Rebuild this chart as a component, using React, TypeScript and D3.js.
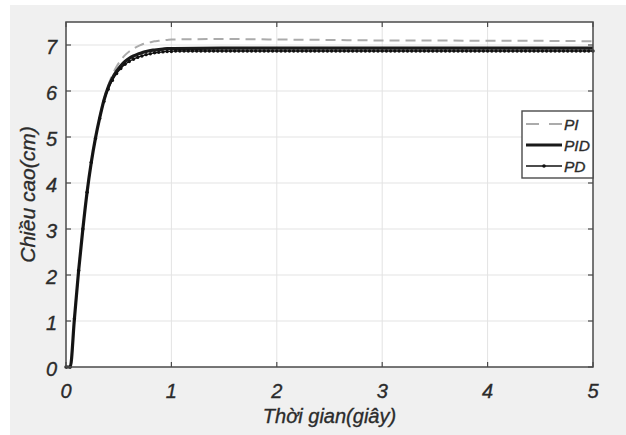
import { useEffect, useRef } from "react";
import * as d3 from "d3";

// axis ticks
const xTicks = [0, 1, 2, 3, 4, 5];
const yTicks = [0, 1, 2, 3, 4, 5, 6, 7];

// PI and PID responses (coarse samples, smooth curve)
const coarseTime = [
  0, 0.04, 0.08, 0.12, 0.16, 0.2, 0.24, 0.28, 0.32, 0.36,
  0.4, 0.44, 0.48, 0.52, 0.56, 0.6, 0.64, 0.68, 0.72, 0.76,
  0.8, 0.84, 0.88, 0.92, 0.96, 1, 1.5, 2, 2.5, 3, 3.5, 4, 4.5, 5,
];
const piHeight = [
  0, 0, 1.05, 2.1, 3.0, 3.8, 4.45, 4.98, 5.43, 5.82,
  6.12, 6.35, 6.53, 6.67, 6.78, 6.86, 6.92, 6.97, 7.01, 7.04,
  7.06, 7.08, 7.09, 7.1, 7.11, 7.12, 7.13, 7.12, 7.11, 7.1, 7.1, 7.09, 7.09, 7.08,
];
const pidHeight = [
  0, 0, 1.05, 2.1, 3.0, 3.8, 4.45, 4.98, 5.42, 5.8,
  6.08, 6.28, 6.43, 6.55, 6.64, 6.71, 6.76, 6.8, 6.83, 6.86,
  6.88, 6.89, 6.9, 6.91, 6.92, 6.92, 6.93, 6.93, 6.93, 6.93, 6.93, 6.93, 6.93, 6.93,
];

// PD response (every simulation step, drawn with markers)
const pdTime = [
  0, 0.04, 0.08, 0.12, 0.16, 0.2, 0.24, 0.28, 0.32, 0.36,
  0.4, 0.44, 0.48, 0.52, 0.56, 0.6, 0.64, 0.68, 0.72, 0.76,
  0.8, 0.84, 0.88, 0.92, 0.96, 1, 1.04, 1.08, 1.12, 1.16,
  1.2, 1.24, 1.28, 1.32, 1.36, 1.4, 1.44, 1.48, 1.52, 1.56,
  1.6, 1.64, 1.68, 1.72, 1.76, 1.8, 1.84, 1.88, 1.92, 1.96,
  2, 2.04, 2.08, 2.12, 2.16, 2.2, 2.24, 2.28, 2.32, 2.36,
  2.4, 2.44, 2.48, 2.52, 2.56, 2.6, 2.64, 2.68, 2.72, 2.76,
  2.8, 2.84, 2.88, 2.92, 2.96, 3, 3.04, 3.08, 3.12, 3.16,
  3.2, 3.24, 3.28, 3.32, 3.36, 3.4, 3.44, 3.48, 3.52, 3.56,
  3.6, 3.64, 3.68, 3.72, 3.76, 3.8, 3.84, 3.88, 3.92, 3.96,
  4, 4.04, 4.08, 4.12, 4.16, 4.2, 4.24, 4.28, 4.32, 4.36,
  4.4, 4.44, 4.48, 4.52, 4.56, 4.6, 4.64, 4.68, 4.72, 4.76,
  4.8, 4.84, 4.88, 4.92, 4.96, 5,
];
const pdHeight = [
  0, 0, 1.05, 2.1, 3.0, 3.8, 4.45, 4.97, 5.4, 5.77,
  6.04, 6.23, 6.38, 6.49, 6.58, 6.64, 6.69, 6.73, 6.76, 6.79,
  6.81, 6.83, 6.84, 6.85, 6.86, 6.86, 6.87, 6.87, 6.87, 6.87,
  6.87, 6.87, 6.87, 6.87, 6.87, 6.87, 6.87, 6.87, 6.87, 6.87,
  6.87, 6.87, 6.87, 6.87, 6.87, 6.87, 6.87, 6.87, 6.87, 6.87,
  6.87, 6.87, 6.87, 6.87, 6.87, 6.87, 6.87, 6.87, 6.87, 6.87,
  6.87, 6.87, 6.87, 6.87, 6.87, 6.87, 6.87, 6.87, 6.87, 6.87,
  6.87, 6.87, 6.87, 6.87, 6.87, 6.87, 6.87, 6.87, 6.87, 6.87,
  6.87, 6.87, 6.87, 6.87, 6.87, 6.87, 6.87, 6.87, 6.87, 6.87,
  6.87, 6.87, 6.87, 6.87, 6.87, 6.87, 6.87, 6.87, 6.87, 6.87,
  6.87, 6.87, 6.87, 6.87, 6.87, 6.87, 6.87, 6.87, 6.87, 6.87,
  6.87, 6.87, 6.87, 6.87, 6.87, 6.87, 6.87, 6.87, 6.87, 6.87,
  6.87, 6.87, 6.87, 6.87, 6.87, 6.87,
];

const legendLabels = ["PI", "PID", "PD"];

const App = () => {
  const svgRef = useRef<SVGSVGElement | null>(null);

  useEffect(() => {
    document.body.style.margin = "0";
    const width = 626;
    const height = 435;
    const left = 66;
    const right = 593;
    const top = 22;
    const bottom = 367;
    const font = "'Liberation Sans', Arial, sans-serif";
    const textColor = "#2b2b2b";

    const x = d3.scaleLinear().domain([0, 5]).range([left, right]);
    const y = d3.scaleLinear().domain([0, 7.5]).range([bottom, top]);

    const svg = d3
      .select(svgRef.current)
      .attr("width", width)
      .attr("height", height)
      .attr("viewBox", [0, 0, width, height].join(" "));

    svg.selectAll("*").remove();

    // figure background
    svg.append("rect").attr("width", width).attr("height", height).attr("fill", "#fff");
    svg.append("rect")
      .attr("x", 10).attr("y", 5)
      .attr("width", width - 10).attr("height", height - 5)
      .attr("fill", "#f0f0f0");

    // axes area
    svg.append("rect")
      .attr("x", left).attr("y", top)
      .attr("width", right - left).attr("height", bottom - top)
      .attr("fill", "#fff");

    // grid
    const grid = svg.append("g").attr("stroke", "#e3e3e3").attr("stroke-width", 1);
    grid.selectAll(".gx").data(xTicks.slice(1, -1)).join("line")
      .attr("x1", (d) => x(d)).attr("x2", (d) => x(d))
      .attr("y1", top).attr("y2", bottom);
    grid.selectAll(".gy").data(yTicks.slice(1)).join("line")
      .attr("y1", (d) => y(d)).attr("y2", (d) => y(d))
      .attr("x1", left).attr("x2", right);

    // curves
    const pts = (ts: number[], vs: number[]) => ts.map((t, i) => [t, vs[i]] as [number, number]);
    const line = d3.line<[number, number]>()
      .x((d) => x(d[0]))
      .y((d) => y(d[1]))
      .curve(d3.curveMonotoneX);

    svg.append("path")
      .attr("d", line(pts(coarseTime, piHeight)))
      .attr("fill", "none")
      .attr("stroke", "#ababab")
      .attr("stroke-width", 2)
      .attr("stroke-dasharray", "10,6");

    svg.append("path")
      .attr("d", line(pts(coarseTime, pidHeight)))
      .attr("fill", "none")
      .attr("stroke", "#1a1a1a")
      .attr("stroke-width", 3.2);

    const pd = pts(pdTime, pdHeight);
    svg.append("path")
      .attr("d", line(pd))
      .attr("fill", "none")
      .attr("stroke", "#111")
      .attr("stroke-width", 1.3);
    svg.append("g").attr("fill", "#111")
      .selectAll("circle").data(pd).join("circle")
      .attr("cx", (d) => x(d[0]))
      .attr("cy", (d) => y(d[1]))
      .attr("r", 1.7);

    // axes box and ticks
    const axisColor = "#4a4a4a";
    svg.append("rect")
      .attr("x", left).attr("y", top)
      .attr("width", right - left).attr("height", bottom - top)
      .attr("fill", "none")
      .attr("stroke", axisColor)
      .attr("stroke-width", 1.5);

    const ticks = svg.append("g").attr("stroke", axisColor).attr("stroke-width", 1.2);
    xTicks.forEach((t) => {
      ticks.append("line").attr("x1", x(t)).attr("x2", x(t)).attr("y1", bottom).attr("y2", bottom - 5);
      ticks.append("line").attr("x1", x(t)).attr("x2", x(t)).attr("y1", top).attr("y2", top + 5);
    });
    yTicks.forEach((t) => {
      ticks.append("line").attr("y1", y(t)).attr("y2", y(t)).attr("x1", left).attr("x2", left + 5);
      ticks.append("line").attr("y1", y(t)).attr("y2", y(t)).attr("x1", right).attr("x2", right - 5);
    });

    const styleText = (sel: any, size: number) =>
      sel
        .attr("font-family", font)
        .attr("font-style", "italic")
        .attr("font-size", size)
        .attr("fill", textColor)
        .attr("stroke", textColor)
        .attr("stroke-width", 0.35);

    // tick labels
    styleText(
      svg.append("g")
        .selectAll("text").data(xTicks).join("text")
        .attr("x", (d) => x(d))
        .attr("y", 398)
        .attr("text-anchor", "middle")
        .text((d) => d),
      20
    );

    styleText(
      svg.append("g")
        .selectAll("text").data(yTicks).join("text")
        .attr("x", 57)
        .attr("y", (d) => y(d) + 9)
        .attr("text-anchor", "end")
        .text((d) => d),
      20
    );

    // axis titles
    styleText(
      svg.append("text")
        .attr("x", (left + right) / 2)
        .attr("y", 423)
        .attr("text-anchor", "middle")
        .text("Thời gian(giây)"),
      20
    );

    styleText(
      svg.append("text")
        .attr("transform", `translate(35,${(top + bottom) / 2}) rotate(-90)`)
        .attr("text-anchor", "middle")
        .text("Chiều cao(cm)"),
      21
    );

    // legend
    const lg = svg.append("g");
    lg.append("rect")
      .attr("x", 522).attr("y", 111)
      .attr("width", right - 522).attr("height", 67)
      .attr("fill", "#fff")
      .attr("stroke", axisColor)
      .attr("stroke-width", 1.4);
    const rowY = [124, 145, 166];
    legendLabels.forEach((label, i) => {
      const yy = rowY[i];
      const l = lg.append("line")
        .attr("x1", 526).attr("x2", 562)
        .attr("y1", yy).attr("y2", yy);
      if (i === 0) {
        l.attr("stroke", "#ababab").attr("stroke-width", 2).attr("stroke-dasharray", "13,10");
      } else if (i === 1) {
        l.attr("stroke", "#1a1a1a").attr("stroke-width", 3.2);
      } else {
        l.attr("stroke", "#111").attr("stroke-width", 1.3);
        lg.append("circle").attr("cx", 544).attr("cy", yy).attr("r", 1.8).attr("fill", "#111");
      }
      styleText(
        lg.append("text")
          .attr("x", 564)
          .attr("y", yy + 5.5)
          .text(label),
        15.5
      );
    });
  }, []);

  return <svg ref={svgRef}></svg>;
};

export default App;
